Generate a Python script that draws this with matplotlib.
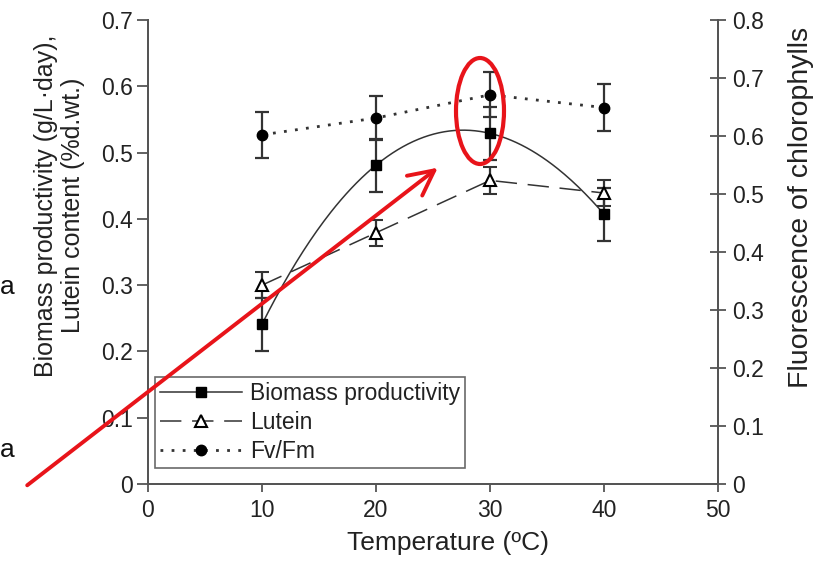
import numpy as np
import matplotlib
matplotlib.use("Agg")
import matplotlib.pyplot as plt
from matplotlib.patches import Ellipse, FancyArrowPatch
from matplotlib.lines import Line2D

plt.rcParams['font.family'] = ['Liberation Sans', 'DejaVu Sans']

temperature = [10, 20, 30, 40]
biomass = [0.241, 0.481, 0.529, 0.407]
biomass_err = [0.04, 0.04, 0.04, 0.04]
lutein = [0.300, 0.379, 0.458, 0.439]
lutein_err = [0.02, 0.02, 0.02, 0.02]
fvfm = [0.602, 0.631, 0.671, 0.649]
fvfm_err = [0.04, 0.038, 0.039, 0.041]

xticks = [0, 10, 20, 30, 40, 50]
left_ticks = [0, 0.1, 0.2, 0.3, 0.4, 0.5, 0.6, 0.7]
right_ticks = [0, 0.1, 0.2, 0.3, 0.4, 0.5, 0.6, 0.7, 0.8]

W, H = 821, 561
fig = plt.figure(figsize=(W/100, H/100), dpi=100)
ax = fig.add_axes([148/W, 1-484/H, (718-148)/W, (484-20)/H])
ax2 = ax.twinx()

spine_c = '#555555'
lc = '#333333'
tc = '#222222'
cap = 5

# Biomass: smooth curve through points
coef = np.polyfit(temperature, biomass, 3)
xs = np.linspace(temperature[0], temperature[-1], 200)
ax.plot(xs, np.polyval(coef, xs), color=lc, lw=1.1)
ax.errorbar(temperature, biomass, yerr=biomass_err, fmt='s', color='black',
            ms=7.5, ecolor=lc, elinewidth=1.6, capsize=cap, capthick=1.6, zorder=4)

# Lutein
ax.plot(temperature, lutein, color=lc, lw=1.1, dashes=(14, 7))
ax.errorbar(temperature, lutein, yerr=lutein_err, fmt='^', color='black',
            mfc='white', mec='black', mew=1.5, ms=8, ecolor=lc,
            elinewidth=1.6, capsize=cap, capthick=1.6, zorder=4)

# Fv/Fm on right axis
ax2.plot(temperature, fvfm, color=lc, lw=2, linestyle=(0, (1, 3)))
ax2.errorbar(temperature, fvfm, yerr=fvfm_err, fmt='o', color='black',
             ms=7.5, ecolor=lc, elinewidth=1.6, capsize=cap, capthick=1.6, zorder=4)

ax.set_xlim(0, 50)
ax.set_ylim(0, 0.7)
ax2.set_ylim(0, 0.8)
ax.set_xticks(xticks)
ax.set_xticklabels([str(t) for t in xticks])
ax.set_yticks(left_ticks)
ax.set_yticklabels(['0'] + [f'{v:.1f}' for v in left_ticks[1:]])
ax2.set_yticks(right_ticks)
ax2.set_yticklabels(['0'] + [f'{v:.1f}' for v in right_ticks[1:]])

for a in (ax, ax2):
    a.spines['top'].set_visible(False)
    for s in ('left', 'right', 'bottom'):
        a.spines[s].set_color(spine_c)
        a.spines[s].set_linewidth(1.4)
ax.tick_params(axis='y', direction='out', length=8, width=1.3, color=spine_c,
               labelsize=16.5, labelcolor=tc, pad=3)
ax.tick_params(axis='x', direction='out', length=6, width=1.3, color=spine_c,
               labelsize=16.5, labelcolor=tc, pad=5)
ax2.tick_params(axis='y', direction='inout', length=11, width=1.3, color=spine_c,
                labelsize=16.5, labelcolor=tc, pad=5)

ax.set_xlabel('Temperature (ºC)', fontsize=19, color=tc)
ax.xaxis.set_label_coords((448-148)/570, -(531-484)/464)
ax.set_ylabel('Biomass productivity (g/L·day),\nLutein content (%d.wt.)',
              fontsize=18, color=tc, linespacing=1.15)
ax.yaxis.set_label_coords(-(148-85)/570, 0.60)
ax2.set_ylabel('Fluorescence of chlorophylls', fontsize=20.5, color=tc)
ax2.yaxis.set_label_coords((788-148)/570, 0.595)

handles = [
    Line2D([], [], color=lc, lw=1.1, marker='s', ms=7.5, mfc='black', mec='black'),
    Line2D([], [], color=lc, lw=1.1, marker='^', ms=8, mfc='white', mec='black',
           mew=1.5, dashes=(14, 7)),
    Line2D([], [], color=lc, lw=2, marker='o', ms=7.5, mfc='black', mec='black',
           linestyle=(0, (1, 3))),
]
leg = ax.legend(handles, ['Biomass productivity', 'Lutein', 'Fv/Fm'],
                loc='lower left', bbox_to_anchor=(7/570, 16/464), fontsize=16.5,
                frameon=True, fancybox=False, borderpad=0.2, labelspacing=0.27,
                handlelength=3.6, handletextpad=0.35, borderaxespad=0)
leg.get_frame().set_edgecolor('#444444')
leg.get_frame().set_linewidth(1.2)
for t in leg.get_texts():
    t.set_color(tc)

# Red annotations (overlay in figure pixel space)
def fx(x): return x / W
def fy(y): return 1 - y / H

ell = Ellipse((fx(480), fy(111)), width=48/W, height=106/H, angle=0,
              transform=fig.transFigure, fill=False, edgecolor='#e8141a', lw=3, zorder=10)
fig.patches.append(ell)
arr = FancyArrowPatch((fx(25), fy(487)), (fx(440), fy(166)),
                      transform=fig.transFigure, arrowstyle='->,head_length=12,head_width=6',
                      color='#e8141a', lw=2.8, mutation_scale=1.5, zorder=10)
fig.patches.append(arr)

fig.text(fx(0), fy(287), 'a', fontsize=19, color='#111111', va='center', ha='left')
fig.text(fx(0), fy(450), 'a', fontsize=19, color='#111111', va='center', ha='left')

fig.savefig('out.png', dpi=100)
